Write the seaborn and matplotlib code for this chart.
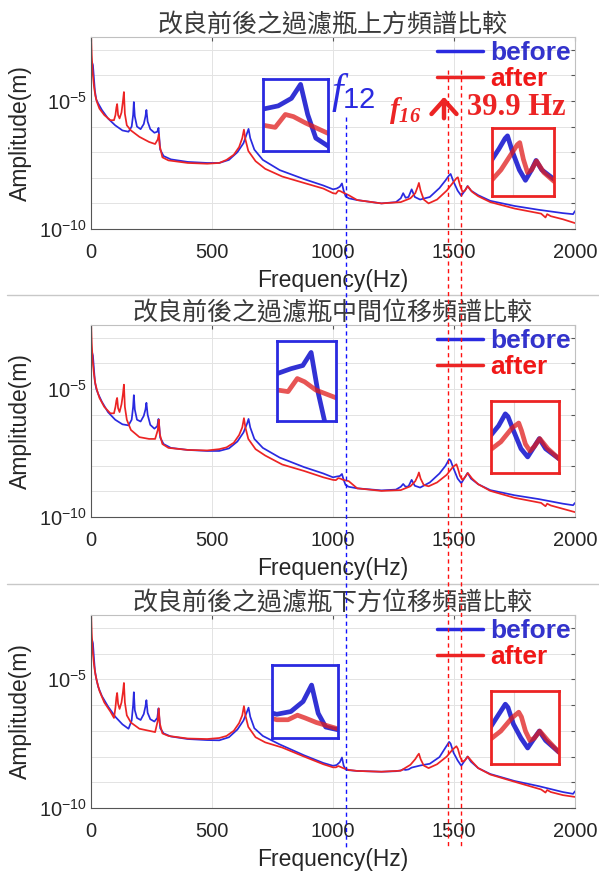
import numpy as np
import pandas as pd
import seaborn as sns
import matplotlib.pyplot as plt
from matplotlib.lines import Line2D
from matplotlib.patches import FancyArrowPatch
from matplotlib import transforms
from matplotlib.ticker import FixedLocator, FuncFormatter

# ---- data (frequency in Hz, log10 of amplitude in m) ----
freq_before = [0, 4, 8, 12, 16, 22, 30, 45, 70, 100, 130, 155, 168, 174, 177, 181, 190, 205,
               218, 225, 229, 234, 245, 262, 274, 279, 281, 286, 300, 330, 400, 480, 530, 570,
               605, 630, 645, 651, 658, 675, 710, 780, 880, 960, 1000, 1015, 1028, 1037, 1044,
               1052, 1065, 1100, 1200, 1260, 1280, 1290, 1300, 1312, 1325, 1338, 1360, 1400,
               1440, 1465, 1480, 1486, 1498, 1515, 1530, 1545, 1556, 1570, 1600, 1650, 1750,
               1850, 1950, 1992, 2000]

freq_after = [0, 3, 7, 12, 18, 25, 35, 55, 80, 95, 101, 105, 108, 112, 118, 126, 132, 136, 140,
              148, 165, 200, 240, 265, 276, 280, 284, 295, 320, 400, 480, 530, 560, 590, 612,
              625, 632, 638, 650, 680, 720, 790, 880, 960, 1000, 1012, 1022, 1030, 1042, 1065,
              1100, 1200, 1280, 1320, 1340, 1350, 1355, 1362, 1375, 1395, 1430, 1470, 1495,
              1510, 1516, 1525, 1535, 1545, 1557, 1575, 1600, 1650, 1750, 1860, 1878, 1885,
              1900, 1950, 2000]

# top of the filter bottle
top_before = [-3.55, -3.48, -3.6, -4.1, -4.6, -4.95, -5.1, -5.35, -5.68, -5.95, -6.15, -6.2,
              -6.0, -5.55, -5.04, -5.6, -6.0, -6.1, -5.9, -5.6, -5.35, -5.8, -6.1, -6.24, -6.2,
              -6.05, -6.3, -6.9, -7.15, -7.28, -7.38, -7.42, -7.42, -7.3, -7.0, -6.65, -6.25,
              -6.09, -6.45, -6.9, -7.3, -7.7, -8.05, -8.3, -8.45, -8.42, -8.35, -8.22, -8.5,
              -8.72, -8.8, -8.87, -9.0, -8.95, -8.8, -8.6, -8.78, -8.75, -8.45, -8.75, -8.85,
              -8.75, -8.4, -8.1, -7.9, -7.85, -8.15, -8.5, -8.7, -8.5, -8.32, -8.5, -8.68,
              -8.9, -9.1, -9.25, -9.38, -9.42, -9.3]
top_after = [-2.3, -3.2, -3.9, -4.4, -4.8, -5.05, -5.3, -5.55, -5.75, -5.75, -5.55, -5.25,
             -5.12, -5.55, -5.68, -5.45, -5.0, -4.65, -5.5, -5.95, -6.15, -6.4, -6.6, -6.68,
             -6.5, -6.3, -6.75, -7.2, -7.32, -7.42, -7.45, -7.42, -7.3, -7.1, -6.8, -6.45,
             -6.12, -6.5, -6.95, -7.35, -7.65, -7.95, -8.2, -8.42, -8.6, -8.62, -8.5, -8.52,
             -8.58, -8.68, -8.87, -9.0, -8.95, -8.8, -8.6, -8.35, -8.2, -8.5, -8.85, -9.0,
             -8.85, -8.5, -8.2, -8.02, -7.98, -8.3, -8.55, -8.5, -8.33, -8.55, -8.72, -8.95,
             -9.2, -9.4, -9.55, -9.42, -9.5, -9.62, -9.77]

# middle of the filter bottle
mid_before = [-3.6, -3.55, -3.7, -4.2, -4.7, -5.0, -5.2, -5.5, -5.9, -6.2, -6.38, -6.42,
              -6.2, -5.7, -5.24, -5.8, -6.2, -6.27, -6.05, -5.8, -5.54, -6.0, -6.4, -6.55,
              -6.45, -6.17, -6.35, -6.9, -7.15, -7.3, -7.38, -7.42, -7.42, -7.32, -7.05, -6.7,
              -6.35, -6.17, -6.5, -6.95, -7.3, -7.68, -8.05, -8.3, -8.45, -8.42, -8.4, -8.32,
              -8.55, -8.75, -8.82, -8.88, -8.96, -8.93, -8.82, -8.71, -8.82, -8.8, -8.55,
              -8.78, -8.85, -8.65, -8.3, -8.0, -7.74, -7.8, -8.1, -8.5, -8.68, -8.45, -8.28,
              -8.5, -8.72, -8.95, -9.15, -9.3, -9.48, -9.54, -9.45]
mid_after = [-2.3, -3.2, -3.9, -4.4, -4.8, -5.05, -5.35, -5.7, -5.95, -5.95, -5.7, -5.45,
             -5.35, -5.75, -5.9, -5.6, -5.2, -4.83, -5.7, -6.2, -6.6, -6.88, -6.95, -6.95,
             -6.6, -6.2, -6.75, -7.15, -7.3, -7.38, -7.4, -7.35, -7.28, -7.1, -6.8, -6.5,
             -6.14, -6.5, -6.95, -7.35, -7.6, -7.95, -8.2, -8.45, -8.55, -8.56, -8.48, -8.5,
             -8.55, -8.6, -8.88, -8.98, -8.95, -8.8, -8.6, -8.4, -8.26, -8.5, -8.75, -8.8,
             -8.65, -8.35, -8.05, -7.94, -8.1, -8.4, -8.55, -8.45, -8.28, -8.5, -8.72, -8.98,
             -9.25, -9.45, -9.58, -9.48, -9.55, -9.68, -9.81]

# bottom of the filter bottle
bot_before = [-3.52, -3.45, -3.6, -4.15, -4.65, -4.98, -5.3, -5.65, -6.05, -6.45, -6.75,
              -6.92, -6.6, -6.0, -5.5, -6.2, -6.5, -6.58, -6.35, -6.05, -5.81, -6.3, -6.55,
              -6.64, -6.5, -6.13, -6.35, -6.9, -7.1, -7.22, -7.32, -7.36, -7.37, -7.25, -6.95,
              -6.6, -6.25, -6.1, -6.45, -6.9, -7.2, -7.53, -7.95, -8.25, -8.36, -8.33, -8.22,
              -8.04, -8.35, -8.5, -8.53, -8.56, -8.59, -8.57, -8.54, -8.5, -8.52, -8.5, -8.43,
              -8.4, -8.35, -8.28, -8.02, -7.65, -7.43, -7.5, -7.85, -8.15, -8.36, -8.15, -8.0,
              -8.2, -8.45, -8.68, -8.95, -9.15, -9.38, -9.45, -9.35]
bot_after = [-2.3, -3.2, -3.9, -4.4, -4.8, -5.1, -5.45, -5.9, -6.25, -6.5, -6.1, -5.7, -5.53,
             -5.95, -6.15, -5.9, -5.5, -5.14, -5.9, -6.4, -6.68, -6.92, -7.0, -7.05, -6.6,
             -6.13, -6.7, -7.1, -7.2, -7.3, -7.32, -7.28, -7.2, -7.0, -6.7, -6.4, -6.04, -6.4,
             -6.85, -7.25, -7.45, -7.65, -8.0, -8.3, -8.42, -8.42, -8.37, -8.4, -8.45, -8.52,
             -8.56, -8.59, -8.55, -8.32, -8.1, -7.95, -7.89, -8.1, -8.35, -8.45, -8.3, -8.0,
             -7.72, -7.6, -7.7, -8.0, -8.2, -8.15, -8.0, -8.2, -8.45, -8.7, -8.98, -9.28, -9.4,
             -9.3, -9.38, -9.5, -9.57]

titles = ['改良前後之過濾瓶上方頻譜比較', '改良前後之過濾瓶中間位移頻譜比較',
          '改良前後之過濾瓶下方位移頻譜比較']
series_names = ['before', 'after']
f12_freq = 1053
f16_freqs = [1474, 1527]
shift_label = '39.9 Hz'

panels = [(top_before, top_after), (mid_before, mid_after), (bot_before, bot_after)]

# zoom windows of the small boxes (x range Hz, log10 y range)
blue_zoom = [((1000, 1064), (-8.84, -8.17)), ((1000, 1064), (-8.74, -8.25)),
             ((995, 1065), (-8.62, -7.82))]
red_zoom = [((1448, 1600), (-9.0, -7.7)), ((1448, 1600), (-9.03, -7.46)),
            ((1448, 1600), (-8.7, -7.15))]

# ---- style ----
sns.set_style('white')
plt.rcParams['font.family'] = ['Liberation Sans', 'Noto Sans CJK TC', 'DejaVu Sans']
plt.rcParams['mathtext.fontset'] = 'custom'
plt.rcParams['mathtext.rm'] = 'Liberation Sans'
plt.rcParams['mathtext.it'] = 'Liberation Serif:italic'
plt.rcParams['mathtext.bf'] = 'Liberation Serif:italic:bold'

BLUE = '#2a2ae0'
RED = '#ec2424'
TXT = '#262626'

W, H = 599, 873
fig = plt.figure(figsize=(W / 100, H / 100), dpi=100)
fig.patch.set_facecolor('white')


def fx(px):
    return px / W


def fy(py):
    return 1 - py / H


main_px = [(91, 37, 575, 229), (91, 325, 575, 517), (91, 615, 575, 808)]
blue_box_px = [(263, 79, 328, 151), (277, 341, 336, 421), (272, 665, 338, 738)]
red_box_px = [(492, 128, 554, 196), (491, 401, 559, 473), (491, 691, 559, 764)]


def rect(b):
    x0, y0, x1, y1 = b
    return [fx(x0), fy(y1), fx(x1) - fx(x0), (y1 - y0) / H]


decades = [10.0 ** k for k in range(-10, -2)]


def ylab(v, pos):
    e = int(round(np.log10(v)))
    return r'$\mathdefault{10^{%d}}$' % e if e in (-5, -10) else ''


axes = []
for i, (b_vals, a_vals) in enumerate(panels):
    ax = fig.add_axes(rect(main_px[i]))
    axes.append(ax)
    ax.set_yscale('log')
    sns.lineplot(x=freq_before, y=np.power(10.0, b_vals), ax=ax, color=BLUE, linewidth=1.25,
                 estimator=None, sort=False)
    sns.lineplot(x=freq_after, y=np.power(10.0, a_vals), ax=ax, color=RED, linewidth=1.25,
                 estimator=None, sort=False)
    ax.set_xlim(0, 2000)
    ax.set_ylim(1e-10, 10 ** -2.5)
    ax.set_xticks([0, 500, 1000, 1500, 2000])
    ax.yaxis.set_major_locator(FixedLocator(decades))
    ax.yaxis.set_major_formatter(FuncFormatter(ylab))
    ax.yaxis.set_minor_locator(FixedLocator([]))
    ax.grid(True, color='#e3e3e3', lw=0.7)
    ax.tick_params(direction='in', length=3, top=True, right=True, labelsize=14.5,
                   labelcolor=TXT, color='#555555', pad=10)
    ax.tick_params(axis='y', pad=3)
    for s in ['left', 'bottom']:
        ax.spines[s].set_color('#555555')
    for s in ['top', 'right']:
        ax.spines[s].set_color('#c0c0c0')
    ax.set_xlabel('Frequency(Hz)', fontsize=16.5, color=TXT, labelpad=5)
    ax.set_ylabel('Amplitude(m)', fontsize=16.5, color=TXT, labelpad=5)
    ax.set_title(titles[i], fontsize=18, color='#3a3a3a', pad=3,
                 family=['Noto Sans CJK TC'])

    handles = [Line2D([], [], color=BLUE, lw=2.5), Line2D([], [], color=RED, lw=2.5)]
    leg = ax.legend(handles, series_names, loc='upper right', bbox_to_anchor=(1.0, 1.0),
                    frameon=False, borderaxespad=0.1, borderpad=0.05, handlelength=1.75,
                    handletextpad=0.28, labelspacing=0.08,
                    prop={'size': 19, 'weight': 'bold'}, labelcolor=['#3333cc', '#f01818'])
    leg.set_zorder(5)

    # zoom boxes
    for box, (xr, yr), edge in ((blue_box_px[i], blue_zoom[i], BLUE),
                                (red_box_px[i], red_zoom[i], RED)):
        ins = fig.add_axes(rect(box))
        ins.set_yscale('log')
        sns.lineplot(x=freq_before, y=np.power(10.0, b_vals), ax=ins, color='#1c1cd0',
                     linewidth=3.4, alpha=0.9, estimator=None, sort=False)
        sns.lineplot(x=freq_after, y=np.power(10.0, a_vals), ax=ins, color='#e01c1c',
                     linewidth=3.4, alpha=0.75, estimator=None, sort=False)
        ins.set_xlim(*xr)
        ins.set_ylim(10 ** yr[0], 10 ** yr[1])
        ins.set_xticks([1500] if edge == RED else [])
        ins.yaxis.set_major_locator(FixedLocator([]))
        ins.yaxis.set_minor_locator(FixedLocator([]))
        ins.grid(True, color='#d8d8d8', lw=0.8)
        ins.tick_params(length=0, labelbottom=False, labelleft=False)
        ins.set_xlabel('')
        ins.set_ylabel('')
        for s in ins.spines.values():
            s.set_color(edge)
            s.set_linewidth(2)

# separators between the three pictures
for py in (295, 584):
    fig.add_artist(Line2D([fx(7), 1], [fy(py), fy(py)], transform=fig.transFigure,
                          color='#c8c8c8', lw=1))

# dashed marker lines across all panels
trans = transforms.blended_transform_factory(axes[0].transData, fig.transFigure)
fig.add_artist(Line2D([f12_freq, f12_freq], [fy(117), fy(848)], transform=trans,
                      color='#1010ff', lw=1, ls=(0, (3, 2.5)), zorder=6))
for f in f16_freqs:
    fig.add_artist(Line2D([f, f], [fy(70), fy(848)], transform=trans,
                          color='#ff1010', lw=1, ls=(0, (3, 2.5)), zorder=6))

# annotations in the top panel
fig.text(fx(331), fy(103), r'$\mathit{f}_{\mathit{12}}$', fontsize=30, color=BLUE,
         ha='left', va='baseline')
fig.text(fx(389), fy(118), r'$\mathbf{f}_{\mathbf{16}}$', fontsize=21, color=RED,
         ha='left', va='baseline')
fig.text(fx(467), fy(115), shift_label, fontsize=22, color=RED, ha='left', va='baseline',
         family='Liberation Serif', weight='bold')
fig.add_artist(FancyArrowPatch(
    (fx(444), fy(121)), (fx(444), fy(94)), transform=fig.transFigure,
    arrowstyle='->,head_length=0.5,head_width=0.45', lw=3.2, color=RED,
    mutation_scale=20))

fig.savefig('out.png', dpi=100, facecolor='white')
